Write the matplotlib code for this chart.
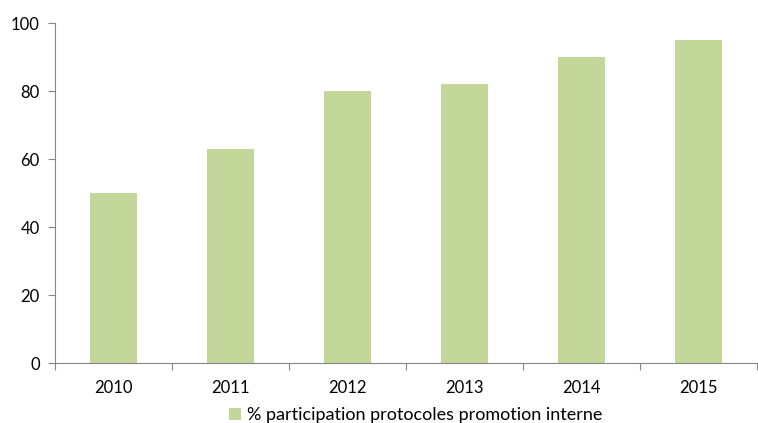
import matplotlib.pyplot as plt
from matplotlib.patches import Patch

years = ["2010", "2011", "2012", "2013", "2014", "2015"]
values = [50, 63, 80, 82, 90, 95]
series_name = "% participation protocoles promotion interne"

plt.rcParams['font.family'] = ['Lato', 'DejaVu Sans']

fig = plt.figure(figsize=(7.58, 4.23), dpi=100)
ax = fig.add_axes([0.0726, 0.1418, 0.9260, 0.8038])

bar_color = '#C4D79B'
axis_color = '#868686'
x = range(len(years))
ax.bar(x, values, width=0.4, color=bar_color)

ax.set_xlim(-0.5, len(years) - 0.5)
ax.set_ylim(0, 100)
ax.set_yticks(range(0, 101, 20))

# category labels centered, separator ticks between categories
ax.set_xticks([i - 0.5 for i in range(len(years) + 1)])
ax.set_xticklabels([])
ax.set_xticks(list(x), minor=True)
ax.set_xticklabels(years, minor=True)
ax.tick_params(axis='x', which='major', length=5, color=axis_color, direction='out')
ax.tick_params(axis='x', which='minor', length=0, labelsize=12, pad=12)
ax.tick_params(axis='y', length=5, color=axis_color, labelsize=12, pad=6)

for side in ['top', 'right']:
    ax.spines[side].set_visible(False)
for side in ['left', 'bottom']:
    ax.spines[side].set_color(axis_color)

handle = Patch(facecolor=bar_color, edgecolor='none')
fig.legend([handle], [series_name], loc='center', bbox_to_anchor=(0.548, 0.018),
           frameon=False, fontsize=13, handlelength=0.7, handleheight=0.7,
           handletextpad=0.3)

fig.savefig("out.png", dpi=100)
